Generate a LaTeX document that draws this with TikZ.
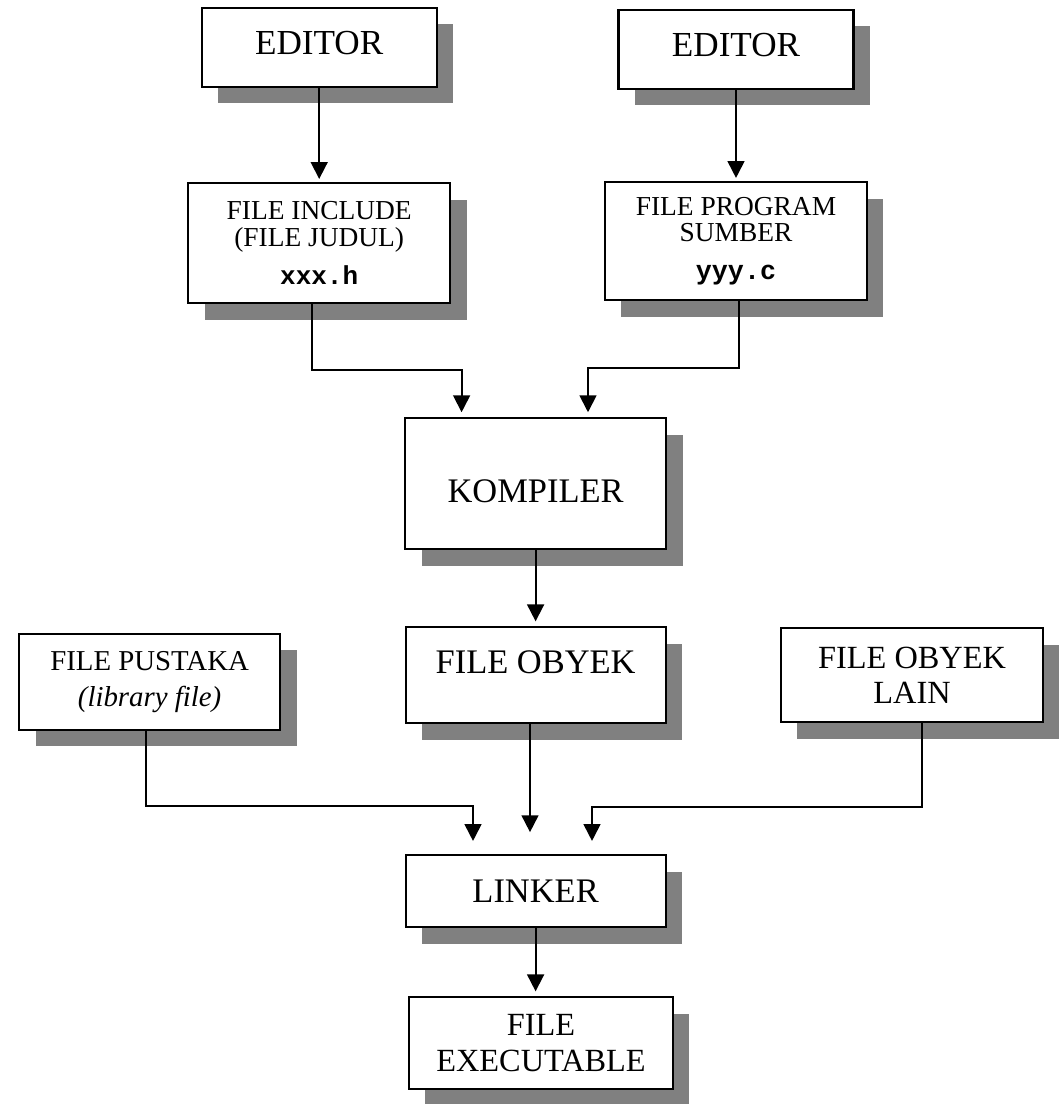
\documentclass[tikz,border=0pt]{standalone}
\usepackage{fontspec}
\setmainfont{Liberation Serif}
\setmonofont{Liberation Mono}
\usetikzlibrary{arrows.meta,positioning,shadows}

\begin{document}
\begin{tikzpicture}[on grid, >={Triangle[width=12pt,length=12pt]}, line width=1.3pt,
    blok/.style={draw, fill=white, line width=1.5pt, inner sep=0pt, align=center,
      drop shadow={shadow xshift=0.41cm, shadow yshift=-0.41cm, fill=black!50, opacity=1}},
    besar/.style={font=\fontsize{24.5}{29}\selectfont},
    kecil/.style={font=\fontsize{19.5}{19}\selectfont}]
        \useasboundingbox (0,0) rectangle (26.525,-27.6);
        \node[blok, besar, minimum width=6.525cm, minimum height=3.275cm, text height=0.95cm] (komp) at (13.39,-12.09) {KOMPILER};
        \node[blok, kecil, minimum width=6.55cm, minimum height=3cm] (inc) [above left=6.01cm and 5.41cm of komp]
          {FILE INCLUDE\\(FILE JUDUL)\\[8pt]{\ttfamily\bfseries\fontsize{18.5}{19}\selectfont xxx.h}};
        \node[blok, kecil, minimum width=6.55cm, minimum height=2.95cm] (src) [above right=6.06cm and 5.01cm of komp]
          {FILE PROGRAM\\SUMBER\\[8pt]{\ttfamily\bfseries\fontsize{19}{19}\selectfont yyy.c}};
        \node[blok, font=\fontsize{25}{30}\selectfont, minimum width=5.875cm, minimum height=1.975cm, text depth=0.25cm] (ed1) [above=4.89cm of inc] {EDITOR};
        \node[blok, font=\fontsize{25}{30}\selectfont, minimum width=5.875cm, minimum height=1.975cm, text depth=0.25cm] (ed2) [above=4.79cm of src] {EDITOR};
        \node[blok, besar, minimum width=6.5cm, minimum height=2.4cm, text depth=0.65cm] (obj) [below=4.79cm of komp] {FILE OBYEK};
        \node[blok, font=\fontsize{20.5}{25.5}\selectfont, minimum width=6.525cm, minimum height=2.4cm] (lib) [left=9.65cm of obj, yshift=-0.17cm]
          {FILE PUSTAKA\\\textit{(library file)}};
        \node[blok, font=\fontsize{23}{25}\selectfont, minimum width=6.55cm, minimum height=2.35cm] (lain) [right=9.41cm of obj] {FILE OBYEK\\LAIN};
        \node[blok, besar, minimum width=6.5cm, minimum height=1.8cm] (link) [below=5.4cm of obj] {LINKER};
        \node[blok, font=\fontsize{23}{25.5}\selectfont, minimum width=6.6cm, minimum height=2.3cm] (exe) [below=3.8cm of link, xshift=0.135cm] {FILE\\EXECUTABLE};
        \draw[->, shorten >=0.08cm] (ed1) -- (inc);
        \draw[->, shorten >=0.08cm] (ed2) -- (src);
        \draw[->, shorten >=0.12cm] ([xshift=-0.18cm]inc.south) -- ++(0,-1.65) -| ([xshift=-1.85cm]komp.north);
        \draw[->, shorten >=0.12cm] ([xshift=0.08cm]src.south) -- ++(0,-1.675) -| ([xshift=1.31cm]komp.north);
        \draw[->, shorten >=0.12cm] (komp) -- (obj);
        \draw[->, shorten >=0.33cm] ([xshift=-0.09cm]lib.south) -- ++(0,-1.875) -| ([xshift=-1.565cm]link.north);
        \draw[->, shorten >=0.55cm] ([xshift=-0.14cm]obj.south) -- ([xshift=-0.14cm]link.north);
        \draw[->, shorten >=0.33cm] ([xshift=0.25cm]lain.south) -- ++(0,-2.1) -| ([xshift=1.41cm]link.north);
        \draw[->, shorten >=0.12cm] (link) -- (link |- exe.north);
      \end{tikzpicture}
\end{document}
